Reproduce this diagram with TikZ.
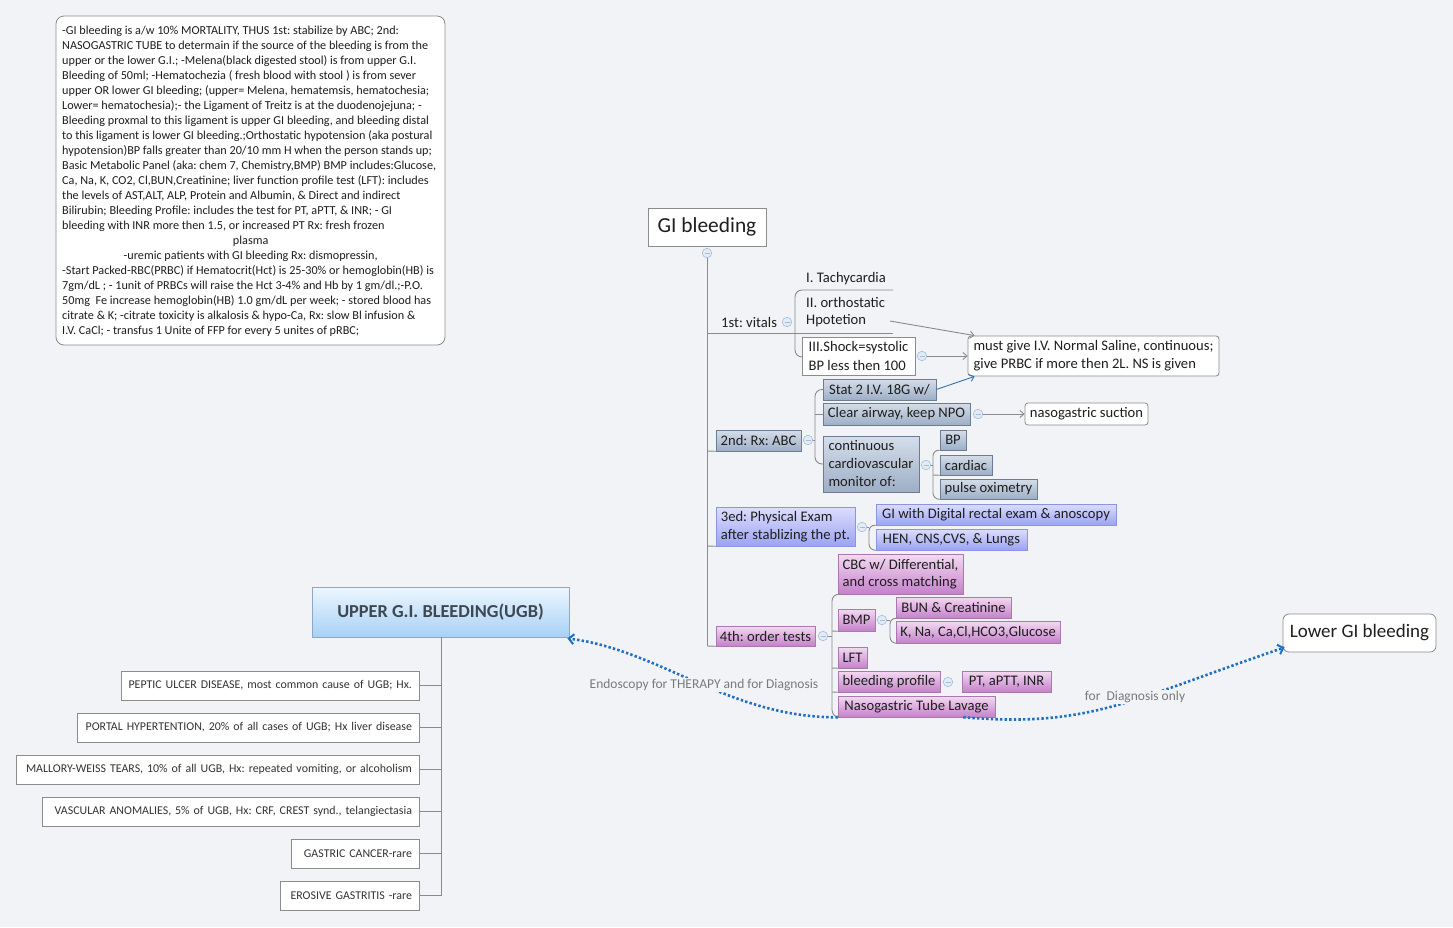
\documentclass[tikz,border=0pt]{standalone}
\usepackage{fontspec}
\setmainfont{Carlito}
\usetikzlibrary{arrows.meta}
\definecolor{bg}{HTML}{F1F3F6}
\definecolor{lncol}{HTML}{8A8A8A}
\definecolor{boxcol}{HTML}{8C8C8C}
\definecolor{txt}{HTML}{1E1E1E}
\definecolor{txtb}{HTML}{333333}
\definecolor{collfill}{HTML}{E3EBF5}
\definecolor{collline}{HTML}{A4BCD8}
\definecolor{bgtop}{HTML}{D5DEEA}
\definecolor{bgbot}{HTML}{9DAEC6}
\definecolor{bgdraw}{HTML}{6E7C91}
\definecolor{vtop}{HTML}{DCDEFC}
\definecolor{vbot}{HTML}{9CA3F3}
\definecolor{vdraw}{HTML}{8C93E0}
\definecolor{ptop}{HTML}{F4DAF2}
\definecolor{pbot}{HTML}{C481CA}
\definecolor{pdraw}{HTML}{A878AE}
\definecolor{utop}{HTML}{EDF6FE}
\definecolor{ubot}{HTML}{A7D1F6}
\definecolor{udraw}{HTML}{8FA8BF}
\definecolor{dotblue}{HTML}{1F6FC5}
\definecolor{arrblue}{HTML}{2E75B6}
\definecolor{glab}{HTML}{7A7A7A}
\definecolor{utext}{HTML}{3E4852}
\begin{document}
\frenchspacing
\begin{tikzpicture}[x=1pt,y=-1pt,
  ln/.style={draw=lncol, line width=0.9pt},
  arr/.style={draw=lncol, line width=0.9pt, -{Straight Barb[length=4pt,width=7pt]}},
  box/.style={draw=boxcol, fill=white, line width=0.8pt, inner sep=0pt, text=txt},
  tf/.style={font=\fontsize{14.6}{18}\selectfont, text=txt},
  plain/.style={tf, inner sep=0pt},
  coll/.style={circle, minimum size=9.5pt, inner sep=0pt, fill=collfill, draw=collline, line width=0.6pt,
     path picture={\draw[collline, line width=0.8pt] ([xshift=-2.5pt]path picture bounding box.center) -- ([xshift=2.5pt]path picture bounding box.center);}},
  bgl/.style={tf, inner sep=0pt, top color=bgtop, bottom color=bgbot, draw=bgdraw, line width=0.5pt},
  vgl/.style={tf, inner sep=0pt, top color=vtop, bottom color=vbot, draw=vdraw, line width=0.5pt},
  pgl/.style={tf, inner sep=0pt, top color=ptop, bottom color=pbot, draw=pdraw, line width=0.5pt},
  lbox/.style={draw=boxcol, fill=white, line width=0.8pt, inner sep=0pt, minimum height=29pt, font=\fontsize{11.9}{13}\selectfont, text=txtb, align=right},
  dotc/.style={draw=dotblue, line width=2.6pt, dash pattern=on 2.4pt off 2.2pt, -{Straight Barb[length=5pt,width=10pt,line width=2pt]}},
  clab/.style={fill=bg, inner sep=1pt, text=glab, font=\fontsize{13.5}{15}\selectfont}
]
\fill[bg] (0,0) rectangle (1453,927);
\useasboundingbox (0,0) rectangle (1453,927);

% ---------------- note ----------------
\node[draw=boxcol, fill=white, line width=0.8pt, rounded corners=8pt, minimum width=389pt, minimum height=329pt, inner sep=0pt] (notebg) at (250.5,180.5) {};
\node[anchor=north west, inner sep=0pt, align=left, text=txt, font=\fontsize{12.2}{15}\selectfont] (note) at (62,25.5) {%
-GI bleeding is a/w 10\% MORTALITY, THUS 1st: stabilize by ABC; 2nd:\\
NASOGASTRIC TUBE to determain if the source of the bleeding is from the\\
upper or the lower G.I.; -Melena(black digested stool) is from upper G.I.\\
Bleeding of 50ml; -Hematochezia ( fresh blood with stool ) is from sever\\
upper OR lower GI bleeding; (upper= Melena, hematemsis, hematochesia;\\
Lower= hematochesia);- the Ligament of Treitz is at the duodenojejuna; -\\
Bleeding proxmal to this ligament is upper GI bleeding, and bleeding distal\\
to this ligament is lower GI bleeding.;Orthostatic hypotension (aka postural\\
hypotension)BP falls greater than 20/10 mm H when the person stands up;\\
Basic Metabolic Panel (aka: chem 7, Chemistry,BMP) BMP includes:Glucose,\\
Ca, Na, K, CO2, Cl,BUN,Creatinine; liver function profile test (LFT): includes\\
the levels of AST,ALT, ALP, Protein and Albumin, \& Direct and indirect\\
Bilirubin; Bleeding Profile: includes the test for PT, aPTT, \& INR; - GI\\
bleeding with INR more then 1.5, or increased PT Rx: fresh frozen\\
\makebox[377pt][c]{plasma}\\
\makebox[377pt][c]{-uremic patients with GI bleeding Rx: dismopressin,}\\
-Start Packed-RBC(PRBC) if Hematocrit(Hct) is 25-30\% or hemoglobin(HB) is\\
7gm/dL ; - 1unit of PRBCs will raise the Hct 3-4\% and Hb by 1 gm/dl.;-P.O.\\
50mg\ \ Fe increase hemoglobin(HB) 1.0 gm/dL per week; - stored blood has\\
citrate \& K; -citrate toxicity is alkalosis \& hypo-Ca, Rx: slow Bl infusion \&\\
I.V. CaCl; - transfus 1 Unite of FFP for every 5 unites of pRBC;};

% ---------------- main tree ----------------
\node[box, minimum width=118pt, minimum height=38pt, font=\fontsize{21.4}{24}\selectfont] (gi) at (707,227) {GI bleeding};
\node[coll] (gic) at (707,253) {};
\coordinate (tbot) at (707,646);
\draw[ln] (gic) -- (tbot);

% 1st vitals
\node[plain, anchor=west] (vit) at (721,322) {1st: vitals};
\node[coll] (vitc) at (787,322) {};
\coordinate (j1) at (707,333);
\coordinate (j1e) at (893,333);
\draw[ln] (j1) -- (j1e);
\coordinate (b1t) at (893,290);
\coordinate (b1b) at (802,357);
\draw[ln, rounded corners=7pt] (b1t) -- (795,290) -- (795,357) -- (b1b);
\node[plain, anchor=west] (tach) at (806,278.5) {I. Tachycardia};
\node[tf, inner sep=0pt, anchor=west, align=left, font=\fontsize{14.6}{17}\selectfont] (orth) at (806,312.5) {II. orthostatic\\Hpotetion};
\node[box, tf, minimum width=113pt, minimum height=38pt, align=left, font=\fontsize{14.6}{19}\selectfont] (shock) at (858.5,356) {III.Shock=systolic\\BP less then 100};
\node[coll] (shockc) at (922,356) {};
\node[box, rounded corners=3pt, minimum width=251pt, minimum height=40pt, align=left, font=\fontsize{14.6}{18}\selectfont] (must) at (1093.5,356) {must give I.V. Normal Saline, continuous;\\give PRBC if more then 2L. NS is given};
\draw[arr] (shockc) -- (must);
\coordinate (oe) at (890,321);
\draw[arr] (oe) -- ([xshift=7pt]must.north west);

% 2nd ABC
\node[bgl, minimum width=85pt, minimum height=21pt] (abc) at (758.5,440.5) {2nd: Rx: ABC};
\coordinate (j2) at (707,451);
\draw[ln] (j2) -- (abc.south west);
\node[coll] (abcc) at (808,440) {};
\node[bgl, minimum width=113pt, minimum height=21pt] (stat) at (879.5,389.5) {Stat 2 I.V. 18G w/};
\node[bgl, minimum width=147pt, minimum height=22pt] (clear) at (896.5,414) {Clear airway, keep NPO};
\node[bgl, minimum width=96pt, minimum height=56pt, align=left] (cont) at (871,464) {continuous\\cardiovascular\\monitor of:};
\draw[ln, rounded corners=7pt] (stat.west) -- (815,389.5) -- (815,464) -- (cont.west);
\draw[ln] (815,414) -- (clear.west);
\draw[ln] (abcc) -- (815,440);
\draw[arr, draw=arrblue] (stat.east) -- ([xshift=7pt]must.south west);
\node[coll] (clearc) at (978,414) {};
\node[box, rounded corners=3pt, tf, minimum width=123pt, minimum height=22pt] (ngs) at (1086.5,414) {nasogastric suction};
\draw[arr] (clearc) -- (ngs);
\node[coll] (contc) at (926,465) {};
\node[bgl, minimum width=26pt, minimum height=20pt] (bp) at (953,440) {BP};
\node[bgl, minimum width=52pt, minimum height=20pt] (card) at (966,465) {cardiac};
\node[bgl, minimum width=97pt, minimum height=20pt] (pulse) at (988.5,489) {pulse oximetry};
\draw[ln, rounded corners=6pt] (bp.south west) -- (933,450) -- (933,499) -- (pulse.south west);
\draw[ln] (933,475) -- (card.south west);
\draw[ln] (contc) -- (933,465);

% 3ed physical exam
\node[vgl, minimum width=139pt, minimum height=39pt, align=left] (pe) at (785.5,526.5) {3ed: Physical Exam\\after stablizing the pt.};
\coordinate (j3) at (707,546);
\draw[ln] (j3) -- (pe.south west);
\node[coll] (pec) at (862,527) {};
\node[vgl, minimum width=240pt, minimum height=21pt] (dre) at (996,514.5) {GI with Digital rectal exam \& anoscopy};
\node[vgl, minimum width=151pt, minimum height=21pt] (hen) at (951.5,539.5) {HEN, CNS,CVS, \& Lungs};
\draw[ln, rounded corners=6pt] (dre.south west) -- (869,525) -- (869,550) -- (hen.south west);
\draw[ln] (pec) -- (869,527);

% 4th order tests
\node[pgl, minimum width=99pt, minimum height=20pt] (ot) at (765.5,636) {4th: order tests};
\draw[ln] (tbot) -- (ot.south west);
\node[coll] (otc) at (823,636) {};
\node[pgl, minimum width=125pt, minimum height=40pt, align=left, font=\fontsize{14.6}{17}\selectfont] (cbc) at (900.5,574) {CBC w/ Differential,\\and cross matching};
\node[pgl, minimum width=37pt, minimum height=22pt] (bmp) at (856.5,620) {BMP};
\node[pgl, minimum width=29pt, minimum height=21pt] (lft) at (852.5,657.5) {LFT};
\node[pgl, minimum width=102pt, minimum height=21pt] (blp) at (889,681.5) {bleeding profile};
\node[pgl, minimum width=157pt, minimum height=21pt] (naso) at (916.5,706.5) {Nasogastric Tube Lavage};
\draw[ln, rounded corners=7pt] (cbc.south west) -- (832,594) -- (832,717) -- (naso.south west);
\draw[ln] (832,631) -- (bmp.south west);
\draw[ln] (832,668) -- (lft.south west);
\draw[ln] (832,692) -- (blp.south west);
\draw[ln] (otc) -- (832,636);
\node[coll] (bmpc) at (882,620) {};
\node[pgl, minimum width=115pt, minimum height=21pt] (bun) at (953.5,607.5) {BUN \& Creatinine};
\node[pgl, minimum width=164pt, minimum height=22pt] (lytes) at (978,632) {K, Na, Ca,Cl,HCO3,Glucose};
\draw[ln, rounded corners=6pt] (bun.south west) -- (890,618) -- (890,643) -- (lytes.south west);
\draw[ln] (bmpc) -- (890,620);
\node[coll] (blpc) at (948,682) {};
\node[pgl, minimum width=89pt, minimum height=21pt] (pt) at (1006.5,681.5) {PT, aPTT, INR};

% ---------------- UGB ----------------
\node[inner sep=0pt, top color=utop, bottom color=ubot, draw=udraw, line width=0.8pt, minimum width=257pt, minimum height=50pt, text=utext, font=\fontsize{18.3}{20}\selectfont\bfseries] (ugb) at (440.5,612) {UPPER G.I. BLEEDING(UGB)};
\coordinate (ubot) at (441,896);
\draw[ln] (ugb.south -| ubot) -- (ubot);
\node[lbox, minimum width=298pt, text width=284pt] (u1) at (270,685.5) {PEPTIC ULCER DISEASE, most common cause of UGB; Hx.};
\node[lbox, minimum width=342pt, text width=328pt] (u2) at (248,727.5) {PORTAL HYPERTENTION, 20\% of all cases of UGB; Hx liver disease};
\node[lbox, minimum width=403pt, text width=389pt] (u3) at (217.5,769.5) {MALLORY-WEISS TEARS, 10\% of all UGB, Hx: repeated vomiting, or alcoholism};
\node[lbox, minimum width=377pt, text width=363pt] (u4) at (230.5,811.5) {VASCULAR ANOMALIES, 5\% of UGB, Hx: CRF, CREST synd., telangiectasia};
\node[lbox, minimum width=128pt, text width=114pt] (u5) at (355,853.5) {GASTRIC CANCER-rare};
\node[lbox, minimum width=139pt, text width=125pt] (u6) at (349.5,895.5) {EROSIVE GASTRITIS -rare};
\foreach \n in {u1,u2,u3,u4,u5,u6}{\draw[ln] (\n.east) -- (\n.east -| ubot);}

% ---------------- Lower GI ----------------
\node[box, rounded corners=6pt, minimum width=153pt, minimum height=38pt, font=\fontsize{19}{22}\selectfont] (lgi) at (1359.5,633) {Lower GI bleeding};

% ---------------- dotted relations ----------------
\draw[dotc] (naso.south west) .. controls (730,718) and (660,650) .. ([xshift=-2pt,yshift=-1pt]ugb.south east);
\draw[dotc] ([xshift=-32pt]naso.south east) .. controls (1090,728) and (1130,700) .. ([xshift=2pt,yshift=5pt]lgi.south west);
\node[clab] (l1) at (704,685) {Endoscopy for THERAPY and for Diagnosis};
\node[clab] (l2) at (1135,697) {for\ \ Diagnosis only};
\end{tikzpicture}
\end{document}
